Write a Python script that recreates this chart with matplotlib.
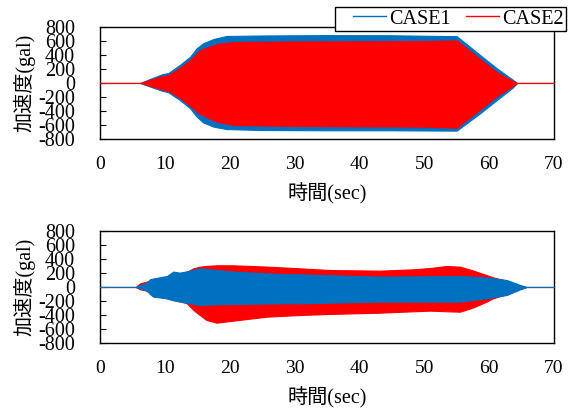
import matplotlib
matplotlib.use('Agg')
import matplotlib.pyplot as plt
from matplotlib.lines import Line2D
from matplotlib.legend_handler import HandlerLine2D

plt.rcParams['font.family'] = ['Liberation Serif', 'Noto Sans CJK JP']
plt.rcParams['axes.unicode_minus'] = False

BLUE = '#0070C0'
RED = '#FF0000'

# envelope of the acceleration records (gal)
# upper panel
t1_case1 = [0, 6.2, 7.7, 9.7, 10.5, 12.3, 13.9, 14.9, 15.9, 17.5, 19.5, 25, 35, 45, 55, 58.6, 61.2, 63.7, 64.3, 70]
up1_case1 = [0, 0, 57, 128, 140, 256, 374, 493, 564, 625, 668, 675, 680, 678, 665, 398, 208, 43, 0, 0]
lo1_case1 = [0, 0, -50, -114, -130, -241, -360, -478, -560, -620, -655, -668, -672, -672, -677, -431, -241, -61, 0, 0]

t1_case2 = [0, 6.2, 7.7, 9.7, 10.5, 12.3, 13.9, 15.4, 18, 20.6, 30, 40, 50, 55, 58.6, 61.2, 63.7, 64.3, 70]
up1_case2 = [0, 0, 45, 100, 110, 215, 325, 465, 555, 582, 590, 592, 595, 605, 340, 150, 25, 0, 0]
lo1_case2 = [0, 0, -40, -95, -110, -210, -325, -440, -550, -597, -610, -615, -620, -635, -375, -185, -40, 0, 0]

# lower panel
t2_case1 = [0, 5.5, 6.2, 7.2, 7.7, 8.2, 10.3, 11.3, 12.3, 13.9, 15.4, 16.4, 20.6, 27.8, 30.8, 43.2, 55.5, 59.6, 62.7, 64.8, 65.8, 70]
up2_case1 = [0, 0, 30, 61, 109, 121, 156, 218, 204, 232, 265, 256, 218, 185, 180, 147, 156, 137, 99, 28, 0, 0]
lo2_case1 = [0, 0, -20, -52, -100, -137, -161, -190, -208, -232, -256, -250, -241, -232, -232, -208, -208, -161, -114, -33, 0, 0]

t2_case2 = [0, 5.5, 6.2, 7.2, 8.2, 12.3, 13.4, 14.4, 15.4, 16.4, 18, 20.6, 25.7, 30.8, 35.5, 43.2, 48.3, 50.9, 53.4, 55.5, 57.6, 59.6, 60.6, 62.7, 64.8, 65.8, 70]
up2_case2 = [0, 0, 52, 76, 100, 190, 218, 265, 289, 300, 308, 308, 290, 265, 241, 232, 251, 270, 298, 289, 232, 170, 137, 90, 20, 0, 0]
lo2_case2 = [0, 0, -33, -52, -120, -200, -232, -327, -398, -469, -507, -478, -422, -398, -383, -365, -345, -336, -345, -351, -289, -208, -161, -100, -25, 0, 0]

yticks = list(range(-800, 801, 200))
xticks = list(range(0, 71, 10))

fig = plt.figure(figsize=(5.72, 4.08), dpi=100)
ax1 = fig.add_axes([0.1748, 0.6586, 0.7937, 0.276])
ax2 = fig.add_axes([0.1748, 0.1586, 0.7937, 0.276])


def band(ax, t, up, lo, color, z):
    ax.fill_between(t, lo, up, color=color, edgecolor=color, linewidth=0.8, zorder=z)


band(ax1, t1_case1, up1_case1, lo1_case1, BLUE, 2)
band(ax1, t1_case2, up1_case2, lo1_case2, RED, 3)
band(ax2, t2_case2, up2_case2, lo2_case2, RED, 2)
band(ax2, t2_case1, up2_case1, lo2_case1, BLUE, 3)

for ax in (ax1, ax2):
    ax.set_xlim(0, 70)
    ax.set_ylim(-800, 800)
    ax.set_xticks(xticks)
    ax.set_yticks(yticks)
    ax.tick_params(axis='y', direction='in', length=4, pad=18, labelsize=14.5)
    ax.tick_params(axis='x', length=0, pad=12, labelsize=14)
    for s in ax.spines.values():
        s.set_linewidth(1.0)
    ax.set_ylabel('加速度(gal)', fontsize=14.5)
    ax.set_xlabel('時間(sec)', fontsize=14.5)
    ax.yaxis.set_label_coords(-0.143, 0.5)
    ax.xaxis.set_label_coords(0.5, -0.39)

handles = [Line2D([], [], color=BLUE, lw=1.0), Line2D([], [], color=RED, lw=1.0)]
fig.legend(handles, ['CASE1', 'CASE2'], loc='upper right',
           bbox_to_anchor=(566 / 572, 1 - 7 / 408), ncol=2, fontsize=14.5,
           frameon=True, fancybox=False, edgecolor='black', framealpha=1,
           handlelength=2.4, handletextpad=0.15, columnspacing=0.0,
           borderpad=0.12, borderaxespad=0,
           handler_map={Line2D: HandlerLine2D(xpad=0.75)})

fig.savefig('out.png', dpi=100)
